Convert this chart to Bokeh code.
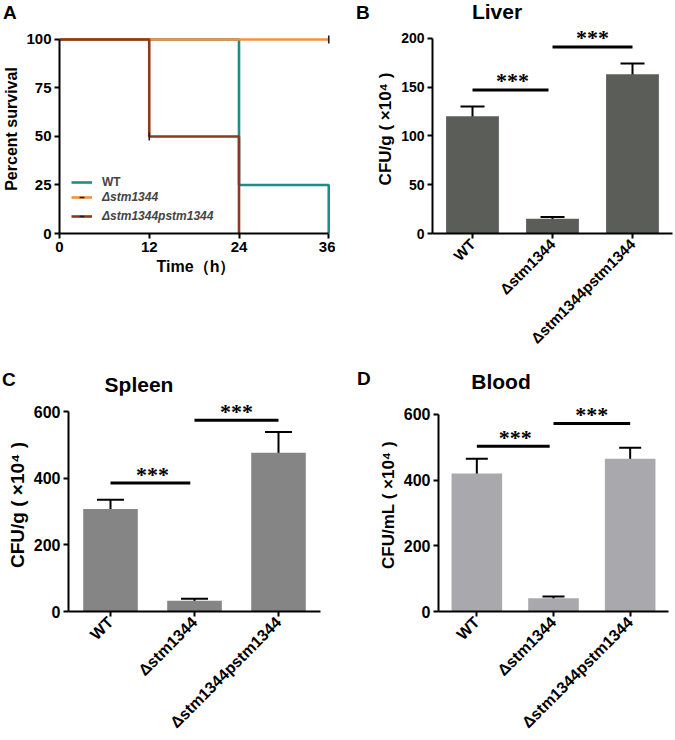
import math
from bokeh.plotting import figure
from bokeh.models import (ColumnDataSource, Whisker, TeeHead, Legend, LegendItem,
                          Range1d, FactorRange, Div)
from bokeh.layouts import row, column
from bokeh.embed import file_html
from bokeh.resources import INLINE

FONT = "Liberation Sans"

# ---------------- data ----------------
# Panel A: survival (Kaplan-Meier steps)
wt_time = [0, 24, 36]
wt_surv = [100, 25, 0]
ko_time = [0, 36]
ko_surv = [100, 100]
comp_time = [0, 12, 24]
comp_surv = [100, 50, 0]
ko_censor_time = [36]
ko_censor_surv = [100]
comp_censor_time = [12]
comp_censor_surv = [50]
surv_xticks = [0, 12, 24, 36]
surv_yticks = [0, 25, 50, 75, 100]
surv_labels = ["WT", "Δstm1344", "Δstm1344pstm1344"]

# Panels B-D: bacterial loads
strains = ["WT", "Δstm1344", "Δstm1344pstm1344"]
liver_mean = [120, 15, 163]
liver_err = [10, 2, 11]
spleen_mean = [308, 32, 477]
spleen_err = [28, 6.5, 62]
blood_mean = [420, 40, 465]
blood_err = [45, 6, 33]
liver_sig = [147, 191]
spleen_sig = [386, 575]
blood_sig = [503, 572]
liver_ticks = [0, 50, 100, 150, 200]
organ_ticks = [0, 200, 400, 600]
sig_text = ["***", "***"]

# ---------------- layout constants ----------------
LEFT_W, RIGHT_W = 335, 340
HDR1_H, TOP_H = 22, 343
HDR2_H, BOT_H = 30, 345


def style_axes(p, tick_size, label_size):
    for ax in (p.xaxis[0], p.yaxis[0]):
        ax.axis_line_width = 2
        ax.axis_line_color = "black"
        ax.major_tick_line_width = 2
        ax.major_tick_line_color = "black"
        ax.major_tick_in = 0
        ax.major_tick_out = 5
        ax.minor_tick_line_color = None
        ax.major_label_text_font = FONT
        ax.major_label_text_font_style = "bold"
        ax.major_label_text_font_size = tick_size
        ax.major_label_text_color = "black"
        ax.major_label_standoff = 3
        ax.axis_label_text_font = FONT
        ax.axis_label_text_font_style = "bold"
        ax.axis_label_text_font_size = label_size
        ax.axis_label_text_color = "black"
        ax.axis_label_standoff = 3
    p.grid.visible = False
    p.outline_line_color = None
    p.background_fill_color = "white"
    p.border_fill_color = "white"


def header(width, height, items):
    spans = []
    for text, x, cy, size, center in items:
        tr = "transform:translateX(-50%);" if center else ""
        spans.append(
            f'<span style="position:absolute;left:{x}px;top:{cy - size / 2:.1f}px;'
            f"font-family:'{FONT}';font-weight:bold;font-size:{size}px;"
            f'line-height:{size}px;white-space:nowrap;color:black;{tr}">{text}</span>')
    html = (f'<div style="position:relative;width:{width}px;height:{height}px;">'
            + "".join(spans) + "</div>")
    return Div(text=html, width=width, height=height, margin=0)


# ---------------- Panel A ----------------
pa = figure(width=LEFT_W, height=TOP_H, output_backend="svg", toolbar_location=None,
            x_range=Range1d(0, 36.5), y_range=Range1d(0, 107.7),
            min_border_left=54, min_border_right=3, min_border_top=2,
            min_border_bottom=132)
style_axes(pa, "15px", "16px")
pa.xaxis.ticker = surv_xticks
pa.yaxis.ticker = surv_yticks
pa.xaxis.bounds = (0, 36)
pa.yaxis.bounds = (0, 100)
pa.xaxis.axis_label = "Time（h）"
pa.yaxis.axis_label = "Percent survival"

colors = ["#1f8c88", "#f6913f", "#8a3a1e"]
r_wt = pa.step(wt_time, wt_surv, mode="after", line_color=colors[0], line_width=2.6)
r_ko = pa.step(ko_time, ko_surv, mode="after", line_color=colors[1], line_width=2.6)
r_cp = pa.step(comp_time, comp_surv, mode="after", line_color=colors[2], line_width=2.6)
m_wt = pa.scatter(x=[], y=[], marker="dash", angle=math.pi / 2, size=8,
                  line_color="#222222", line_width=1.6)
m_ko = pa.scatter(ko_censor_time, ko_censor_surv, marker="dash", angle=math.pi / 2,
                  size=8, line_color="#222222", line_width=1.6)
m_cp = pa.scatter(comp_censor_time, comp_censor_surv, marker="dash", angle=math.pi / 2,
                  size=8, line_color="#222222", line_width=1.6)


def make_legend(items, style, loc):
    lg = Legend(items=items, location=loc, label_text_font=FONT,
                label_text_font_style=style, label_text_font_size="12px",
                glyph_width=21, glyph_height=12, label_height=12, spacing=5,
                padding=0, margin=0, label_standoff=10,
                border_line_color=None, background_fill_alpha=0)
    pa.add_layout(lg)


make_legend([LegendItem(label=surv_labels[0], renderers=[r_wt, m_wt])], "bold", (12, 44))
make_legend([LegendItem(label=surv_labels[1], renderers=[r_ko, m_ko]),
             LegendItem(label=surv_labels[2], renderers=[r_cp, m_cp])],
            "bold italic", (12, 10))


# ---------------- bar panels ----------------
def bar_panel(W, H, borders, means, errs, sigs, ticks, yend, color, ylabel,
              bar_w, tick_size, label_size, cat_size, cap):
    L, R, T, B = borders
    p = figure(width=W, height=H, output_backend="svg", toolbar_location=None,
               x_range=FactorRange(factors=strains, range_padding=0),
               y_range=Range1d(0, yend),
               min_border_left=L, min_border_right=R, min_border_top=T,
               min_border_bottom=B)
    style_axes(p, tick_size, label_size)
    p.yaxis.ticker = ticks
    p.yaxis.bounds = (0, ticks[-1])
    p.yaxis.axis_label = ylabel
    p.xaxis.major_label_orientation = math.pi / 4
    p.xaxis.major_label_text_font_size = cat_size

    src = ColumnDataSource(dict(
        x=strains, top=means,
        upper=[m + e for m, e in zip(means, errs)],
        lower=[m - e for m, e in zip(means, errs)]))
    p.vbar(x="x", top="top", width=bar_w, source=src, fill_color=color, line_color=None)
    p.add_layout(Whisker(source=src, base="x", upper="upper", lower="lower",
                         line_color="black", line_width=2,
                         upper_head=TeeHead(size=cap, line_color="black", line_width=2),
                         lower_head=TeeHead(size=cap, line_color="black", line_width=2)))

    sig_src = ColumnDataSource(dict(
        x0=[(strains[0], 0.0), (strains[1], 0.0)],
        x1=[(strains[1], -0.05), (strains[2], 0.0)],
        xm=[(strains[0], 0.5), (strains[1], 0.5)],
        y=sigs, t=sig_text))
    p.segment(x0="x0", y0="y", x1="x1", y1="y", source=sig_src,
              line_color="black", line_width=3)
    p.text(x="xm", y="y", text="t", source=sig_src, text_align="center",
           text_baseline="alphabetic", y_offset=-9, text_font=FONT,
           text_font_size="22px", text_font_style="bold", text_color="black")
    return p


pb = bar_panel(RIGHT_W, TOP_H, (97, 3, 2, 132), liver_mean, liver_err, liver_sig,
               liver_ticks, 214, "#5a5d58", "CFU/g ( ×10⁴ )", 0.66,
               "14px", "17px", "15px", 24)
pc = bar_panel(LEFT_W, BOT_H, (68, 15, 3, 127), spleen_mean, spleen_err, spleen_sig,
               organ_ticks, 640, "#858585", "CFU/g ( ×10⁴ )", 0.65,
               "16px", "19px", "16px", 27)
pd_ = bar_panel(RIGHT_W, BOT_H, (103, 7, 3, 127), blood_mean, blood_err, blood_sig,
                organ_ticks, 648, "#a8a8ad", "CFU/mL ( ×10⁴ )", 0.66,
                "16px", "17px", "16px", 22)

hA = header(LEFT_W, HDR1_H, [("A", 3, 12, 19, False)])
hB = header(RIGHT_W, HDR1_H, [("B", 21, 12, 19, False), ("Liver", 162, 11, 21, True)])
hC = header(LEFT_W, HDR2_H, [("C", 2, 14, 19, False), ("Spleen", 139, 19, 21, True)])
hD = header(RIGHT_W, HDR2_H, [("D", 22, 13, 19, False), ("Blood", 166, 16, 21, True)])

layout = column(row(hA, hB), row(pa, pb), row(hC, hD), row(pc, pd_))
open("out.html", "w").write(file_html(layout, INLINE))
